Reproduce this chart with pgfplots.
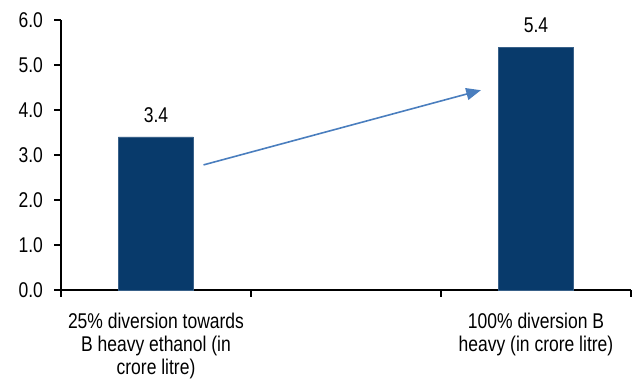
\documentclass[border=0pt]{standalone}
\usepackage{fontspec}
\setmainfont{Liberation Sans}[FakeStretch=0.82]
\usepackage{pgfplots}
\pgfplotsset{compat=1.18}
\usetikzlibrary{arrows.meta}
\definecolor{barblue}{RGB}{8,58,107}
\definecolor{arrowblue}{RGB}{74,126,190}
\begin{document}
\begin{tikzpicture}[font=\fontsize{16pt}{17pt}\selectfont]
\useasboundingbox (-45.75pt,-68.25pt) rectangle (429pt,217.5pt);
\begin{axis}[
  at={(0,0)}, anchor=south west,
  scale only axis,
  width=427.5pt, height=202.5pt,
  xmin=-0.5, xmax=2.5,
  ymin=0, ymax=6,
  axis x line*=bottom,
  axis y line*=left,
  axis line style={line width=0.9pt, black},
  tick style={line width=0.9pt, black},
  tick align=outside,
  major tick length=5pt,
  xtick={-0.5,0.5,1.5,2.5},
  x tick label as interval,
  xticklabels={{25\% diversion towards\\B heavy ethanol (in\\crore litre)},{},{100\% diversion B\\heavy (in crore litre)}},
  xticklabel style={align=center, yshift=-9pt},
  ytick={0,1,2,3,4,5,6},
  yticklabel style={/pgf/number format/.cd, fixed, fixed zerofill, precision=1, /tikz/.cd, xshift=-5pt},
  /pgf/number format/assume math mode=true,
  ybar,
  bar width=56.25pt,
  nodes near coords,
  nodes near coords style={/pgf/number format/.cd, fixed, fixed zerofill, precision=1, /tikz/.cd, yshift=7pt, black},
  clip=false,
]
\addplot[fill=barblue, draw=barblue!80!white] coordinates {(0,3.4) (2,5.4)};
\draw[arrowblue, line width=1.2pt, -{Triangle[length=11pt,width=9pt]}] (axis cs:0.25,2.78) -- (axis cs:1.71,4.44);
\end{axis}
\end{tikzpicture}
\end{document}
